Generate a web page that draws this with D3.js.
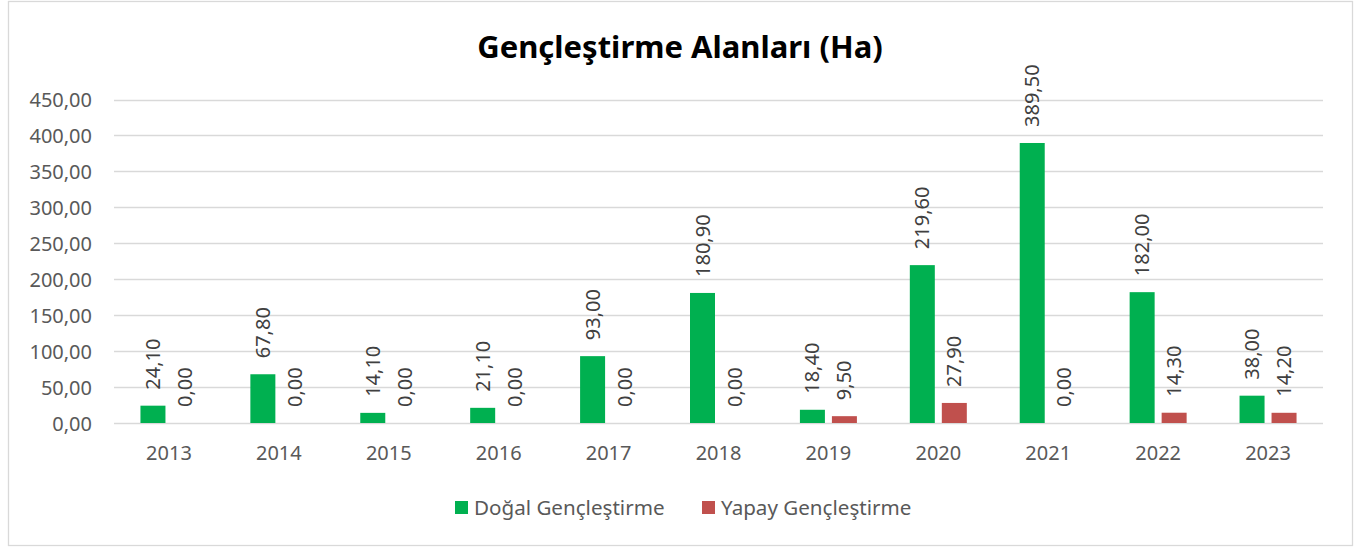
<!DOCTYPE html>
<html><head><meta charset="utf-8">
<script src="https://cdn.jsdelivr.net/npm/d3@7"></script>
<style>body{margin:0;background:#fff}svg{display:block}text{font-family:"Noto Sans",sans-serif}</style>
</head><body>
<script>
const years = ["2013","2014","2015","2016","2017","2018","2019","2020","2021","2022","2023"];
const dogal = [24.10,67.80,14.10,21.10,93.00,180.90,18.40,219.60,389.50,182.00,38.00];
const yapay = [0.00,0.00,0.00,0.00,0.00,0.00,9.50,27.90,0.00,14.30,14.20];
const seriesNames = ["Doğal Gençleştirme","Yapay Gençleştirme"];
const colors = ["#00B050","#C0504D"];
const yTicks = [0,50,100,150,200,250,300,350,400,450];
const title = "Gençleştirme Alanları (Ha)";

const W=1362,H=547;
const svg=d3.select("body").append("svg").attr("width",W).attr("height",H);
svg.append("rect").attr("x",8.5).attr("y",1.5).attr("width",1344).attr("height",544)
  .attr("fill","#fff").attr("stroke","#d9d9d9").attr("stroke-width",1.3);

const x=d3.scaleBand().domain(years).range([114,1323]);
const y=d3.scaleLinear().domain([0,450]).range([423,99.5]);
const fmt=v=>d3.format(".2f")(v).replace(".",",");

svg.append("g").selectAll("line").data(yTicks).join("line")
  .attr("x1",114).attr("x2",1323).attr("y1",d=>Math.round(y(d))+0.5).attr("y2",d=>Math.round(y(d))+0.5)
  .attr("stroke","#d9d9d9").attr("stroke-width",1.3);

const yAxis=d3.axisLeft(y).tickValues(yTicks).tickFormat(fmt).tickSize(0).tickPadding(0);
const ga=svg.append("g").attr("transform","translate(92,0)").call(yAxis);
ga.select(".domain").remove();
ga.selectAll("text").attr("fill","#595959").style("font-size","20px").attr("dy","0.35em");

const xAxis=d3.axisBottom(x).tickSize(0).tickPadding(0);
const gx=svg.append("g").attr("transform","translate(0,453)").call(xAxis);
gx.select(".domain").remove();
gx.selectAll("text").attr("fill","#595959").style("font-size","20px").attr("dy","0.35em");

const series=[dogal,yapay];
const offs=[-16,16], bw=25;
series.forEach((vals,si)=>{
  const g=svg.append("g");
  g.selectAll("rect").data(vals).join("rect")
    .attr("x",(d,i)=>x(years[i])+x.bandwidth()/2+offs[si]-bw/2)
    .attr("width",bw)
    .attr("y",d=>y(d)).attr("height",d=>y(0)-y(d))
    .attr("fill",colors[si]);
  g.selectAll("text").data(vals).join("text")
    .attr("transform",(d,i)=>`translate(${x(years[i])+x.bandwidth()/2+offs[si]},${y(d)-16}) rotate(-90)`)
    .attr("dy","0.35em").attr("text-anchor","start")
    .attr("fill","#404040").style("font-size","20px").text(d=>fmt(d));
});

svg.append("text").attr("x",680).attr("y",58).attr("text-anchor","middle")
  .style("font-size","31px").style("font-weight","bold").attr("fill","#000").text(title);

const lg=svg.append("g");
const lx=[455,702];
seriesNames.forEach((n,i)=>{
  lg.append("rect").attr("x",lx[i]).attr("y",501).attr("width",13).attr("height",13).attr("fill",colors[i]);
  lg.append("text").attr("x",lx[i]+19).attr("y",508).attr("dy","0.35em").attr("fill","#595959")
    .style("font-size","20.6px").text(n);
});
</script>
</body></html>
